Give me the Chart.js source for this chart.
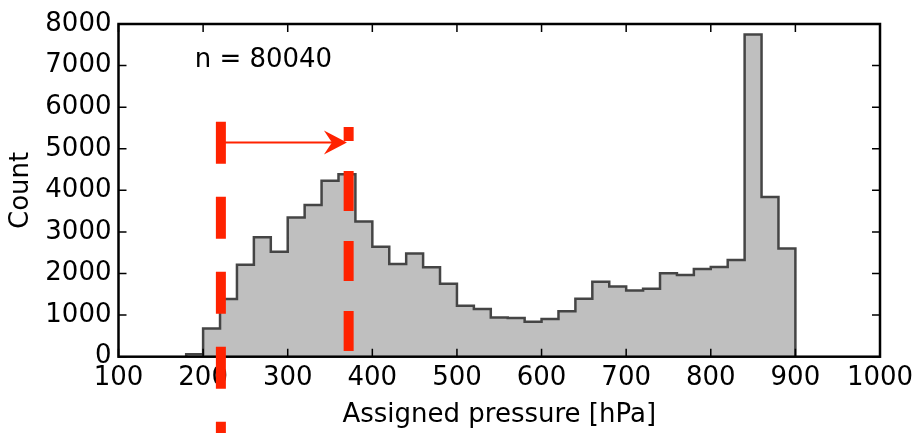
<!DOCTYPE html>
<html>
<head>
<meta charset="utf-8">
<script src="https://cdn.jsdelivr.net/npm/chart.js@4.4.1/dist/chart.umd.min.js"></script>
<style>
  html, body { margin: 0; padding: 0; background: #fff; }
  #wrap { width: 922px; height: 433px; }
</style>
</head>
<body>
<div id="wrap"><canvas id="hist"></canvas></div>
<script>
// histogram bins (hPa) and counts
const binEdges = [180, 200, 220, 240, 260, 280, 300, 320, 340, 360, 380, 400, 420, 440, 460, 480, 500, 520,
  540, 560, 580, 600, 620, 640, 660, 680, 700, 720, 740, 760, 780, 800, 820, 840, 860, 880, 900]
const counts = [60, 680, 1390, 2210, 2870, 2525, 3350, 3650, 4230, 4385, 3250, 2645, 2230, 2480, 2150, 1755, 1225, 1145,
  945, 930, 840, 905, 1090, 1395, 1805, 1690, 1590, 1635, 2005, 1965, 2110, 2155, 2325, 7750, 3840, 2600]

const xTicks = [100, 200, 300, 400, 500, 600, 700, 800, 900, 1000]
const yTicks = [0, 1000, 2000, 3000, 4000, 5000, 6000, 7000, 8000]

// dashed red markers and the arrow between them
const markerX = [221, 372]
const markerTop = [5650, 5523]
const markerBottom = [-2000, 137]
const arrowFrom = [221, 5150]
const arrowTo = [370, 5150]
const nLabel = "n = 80040"
const nLabelPos = [190, 7130]

const RED = "#ff2200"
const FONT = "'DejaVu Sans', sans-serif"

// outline of a stepfilled histogram
const steps = [{ x: binEdges[0], y: 0 }]
counts.forEach((c, i) => steps.push({ x: binEdges[i], y: c }))
steps.push({ x: binEdges[binEdges.length - 1], y: counts[counts.length - 1] })
steps.push({ x: binEdges[binEdges.length - 1], y: 0 })

const frameAndTicks = {
  id: "frameAndTicks",
  afterDatasetDraw(chart, args) {
    if (args.index !== 0) return
    const { ctx, chartArea: a, scales } = chart
    ctx.save()
    ctx.strokeStyle = "#000"
    ctx.lineWidth = 1.5
    ctx.beginPath()
    xTicks.forEach((t) => {
      const px = scales.x.getPixelForValue(t)
      ctx.moveTo(px, a.bottom); ctx.lineTo(px, a.bottom - 8)
      ctx.moveTo(px, a.top); ctx.lineTo(px, a.top + 8)
    })
    yTicks.forEach((t) => {
      const py = scales.y.getPixelForValue(t)
      ctx.moveTo(a.left, py); ctx.lineTo(a.left + 8, py)
      ctx.moveTo(a.right, py); ctx.lineTo(a.right - 8, py)
    })
    ctx.stroke()
    ctx.lineWidth = 2.5
    ctx.strokeRect(a.left, a.top, a.right - a.left, a.bottom - a.top)
    ctx.restore()
  },
  afterDatasetsDraw(chart) {
    const { ctx, scales } = chart
    const x0 = scales.x.getPixelForValue(arrowFrom[0])
    const x1 = scales.x.getPixelForValue(arrowTo[0])
    const y = scales.y.getPixelForValue(arrowFrom[1])
    ctx.save()
    ctx.strokeStyle = RED
    ctx.fillStyle = RED
    ctx.lineWidth = 2
    ctx.beginPath()
    ctx.moveTo(x0, y); ctx.lineTo(x1 - 12, y)
    ctx.stroke()
    ctx.beginPath()
    ctx.moveTo(x1, y)
    ctx.lineTo(x1 - 23, y - 12)
    ctx.lineTo(x1 - 15, y)
    ctx.lineTo(x1 - 23, y + 12)
    ctx.closePath()
    ctx.fill()

    ctx.fillStyle = "#000"
    ctx.font = "26px " + FONT
    ctx.textBaseline = "middle"
    ctx.fillText(nLabel, scales.x.getPixelForValue(nLabelPos[0]), scales.y.getPixelForValue(nLabelPos[1]))
    ctx.restore()
  },
}

const markerSets = markerX.map((x, i) => ({
  data: i === 0
    ? [{ x: x, y: markerTop[i] }, { x: x, y: markerBottom[i] }]
    : [{ x: x, y: markerBottom[i] }, { x: x, y: markerTop[i] }],
  borderColor: RED,
  borderWidth: 10,
  borderDash: i === 0 ? [42, 33] : [40, 30],
  borderCapStyle: "butt",
  pointRadius: 0,
  fill: false,
  clip: false,
  order: 1,
}))

const plain = (v) => String(v)

new Chart(document.getElementById("hist"), {
  type: "line",
  data: {
    datasets: [
      {
        data: steps,
        stepped: "before",
        borderColor: "#454545",
        borderWidth: 2.5,
        backgroundColor: "#bfbfbf",
        fill: "origin",
        pointRadius: 0,
        order: 2,
      },
      ...markerSets,
    ],
  },
  options: {
    responsive: true,
    maintainAspectRatio: false,
    animation: false,
    layout: { padding: { top: 24, right: 42, left: 0, bottom: 0 } },
    plugins: { legend: { display: false }, tooltip: { enabled: false } },
    scales: {
      x: {
        type: "linear",
        min: 100,
        max: 1000,
        afterBuildTicks: (s) => { s.ticks = xTicks.map((v) => ({ value: v })) },
        afterFit: (s) => { s.height = 76.3 },
        grid: { display: false, drawTicks: false },
        border: { display: false },
        ticks: { color: "#000", font: { family: FONT, size: 26 }, padding: 6, maxRotation: 0, callback: plain },
        title: { display: true, text: "Assigned pressure [hPa]", color: "#000", font: { family: FONT, size: 26 }, padding: { top: 0, bottom: 2 } },
      },
      y: {
        min: 0,
        max: 8000,
        afterBuildTicks: (s) => { s.ticks = yTicks.map((v) => ({ value: v })) },
        afterFit: (s) => { s.width = 118.5 },
        grid: { display: false, drawTicks: false },
        border: { display: false },
        ticks: { color: "#000", font: { family: FONT, size: 26 }, padding: 7, callback: plain },
        title: { display: true, text: "Count", color: "#000", font: { family: FONT, size: 26 }, padding: { top: 6, bottom: 0 } },
      },
    },
  },
  plugins: [frameAndTicks],
})
</script>
</body>
</html>
